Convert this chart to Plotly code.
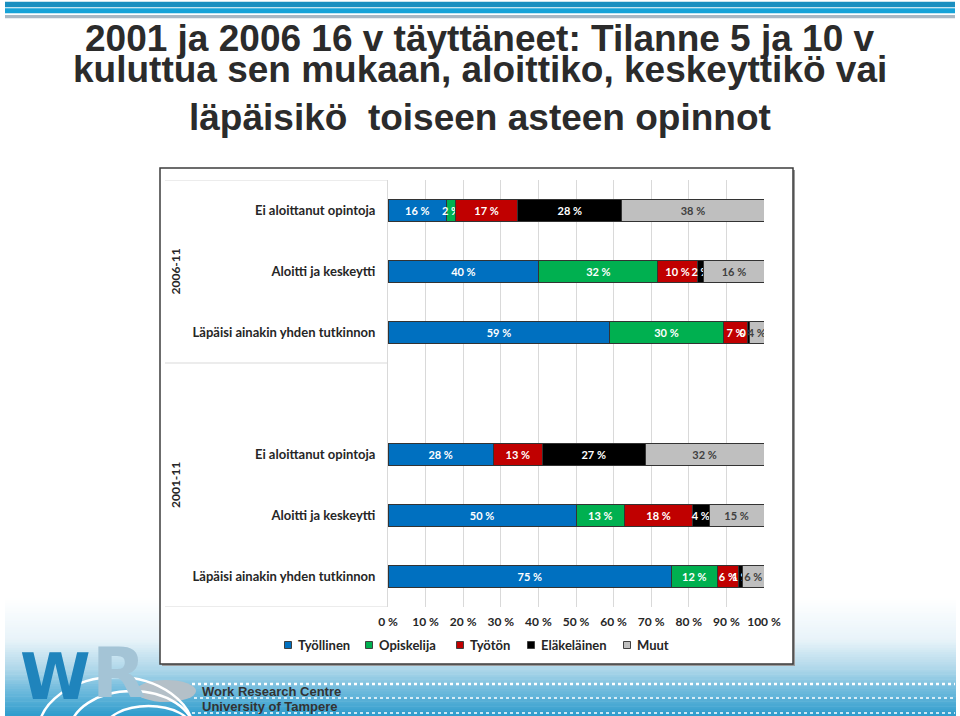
import plotly.graph_objects as go

# ---------------- data ----------------
groups = ["2006-11", "2001-11"]
row_labels = ["Ei aloittanut opintoja", "Aloitti ja keskeytti", "Läpäisi ainakin yhden tutkinnon"]
series_names = ["Työllinen", "Opiskelija", "Työtön", "Eläkeläinen", "Muut"]
series_colors = ["#0070C0", "#00B050", "#C00000", "#000000", "#BFBFBF"]
label_colors = ["#FFFFFF", "#FFFFFF", "#FFFFFF", "#FFFFFF", "#404040"]
# rows: 2006-11 (Ei, Aloitti, Läpäisi), 2001-11 (Ei, Aloitti, Läpäisi)
tyollinen = [15.6, 40.1, 59.0, 28.0, 50.0, 75.4]
opiskelija = [2.3, 31.7, 30.1, 0.0, 12.9, 12.1]
tyoton = [16.6, 10.4, 6.6, 13.0, 18.1, 5.8]
elakelainen = [27.7, 1.8, 0.4, 27.4, 4.4, 1.0]
muut = [37.8, 16.0, 3.9, 31.6, 14.6, 5.7]
series_values = [tyollinen, opiskelija, tyoton, elakelainen, muut]
x_ticks = list(range(0, 101, 10))
title_lines = [
    "2001 ja 2006 16 v täyttäneet: Tilanne 5 ja 10 v",
    "kuluttua sen mukaan, aloittiko, keskeyttikö vai",
    "läpäisikö  toiseen asteen opinnot",
]

# slot positions: group 2006 occupies slots 0-2, an empty slot 3, group 2001 slots 4-6
slots = [0, 1, 2, 4, 5, 6]
tick_text = row_labels + row_labels

# ---------------- geometry helpers ----------------
W, H = 960, 716
L, R, T, B = 388, 196, 180, 109
X0, X1 = L, W - R
Y0, Y1 = T, H - B


def px(x):
    return (x - X0) / (X1 - X0)


def py(y):
    return (Y1 - y) / (Y1 - Y0)


CHART_FONT = "Lato, Calibri, Carlito, sans-serif"
TXT = "#262626"

fig = go.Figure()
for name, vals, col, lcol in zip(series_names, series_values, series_colors, label_colors):
    fig.add_trace(go.Bar(
        name=name, orientation="h", x=vals, y=slots,
        marker=dict(color=col, line=dict(color="#333333", width=1)),
        text=[f"{round(v)} %" if v > 0 else "" for v in vals],
        textposition="inside", insidetextanchor="middle", textangle=0,
        textfont=dict(family=CHART_FONT, size=11, color=lcol, weight="bold"),
        width=0.36, showlegend=False, hoverinfo="skip",
    ))

shapes = []
# top decorative stripes
for (y0, y1, c) in [(1.7, 7.3, "#1A8FC0"), (8.3, 13.3, "#17A3D8"), (15, 18.3, "#A9B8C4")]:
    shapes.append(dict(type="rect", xref="paper", yref="paper", x0=px(5), x1=px(955),
                       y0=py(y1), y1=py(y0), fillcolor=c, line=dict(width=0), layer="below"))

# footer gradient band (stepped)
stops = [(598, (255, 255, 255)), (640, (232, 243, 249)), (670, (172, 214, 233)),
         (690, (112, 187, 221)), (716, (46, 156, 204))]
n = 48
for i in range(n):
    ya = 598 + (716 - 598) * i / n
    yb = 598 + (716 - 598) * (i + 1) / n
    ym = (ya + yb) / 2
    for (sa, ca), (sb, cb) in zip(stops[:-1], stops[1:]):
        if sa <= ym <= sb:
            t = (ym - sa) / (sb - sa)
            c = tuple(int(round(ca[k] + (cb[k] - ca[k]) * t)) for k in range(3))
            break
    shapes.append(dict(type="rect", xref="paper", yref="paper", x0=px(5), x1=px(956),
                       y0=py(yb + 0.5), y1=py(ya), fillcolor="rgb(%d,%d,%d)" % c,
                       line=dict(width=0), layer="below"))

# logo gray swoosh
shapes.append(dict(type="circle", xref="paper", yref="paper", x0=px(136), x1=px(196),
                   y0=py(702), y1=py(680), fillcolor="#B4C0C8", line=dict(width=0), layer="below"))

# chart box with shadow
shapes.append(dict(type="rect", xref="paper", yref="paper", x0=px(162), x1=px(795),
                   y0=py(666), y1=py(170), fillcolor="#9A9A9A", line=dict(width=0), layer="below"))
shapes.append(dict(type="rect", xref="paper", yref="paper", x0=px(160), x1=px(793),
                   y0=py(664), y1=py(168), fillcolor="#FFFFFF",
                   line=dict(color="#3C3C3C", width=1.5), layer="below"))

# category-area divider lines
for yv in [-0.5, 2.5, 6.5]:
    shapes.append(dict(type="line", xref="paper", yref="y", x0=px(165), x1=0, y0=yv, y1=yv,
                       line=dict(color="#D9D9D9", width=1), layer="below"))

# dotted footer lines
for (yy, wd, x0) in [(684, 2.5, 192), (698, 1.5, 194), (713, 1.5, 192)]:
    shapes.append(dict(type="line", xref="paper", yref="paper", x0=px(x0), x1=px(955),
                       y0=py(yy), y1=py(yy), line=dict(color="#FFFFFF", width=wd, dash="dot"),
                       layer="above"))

annotations = []
# title
for line, yc in zip(title_lines, [38, 70, 117]):
    annotations.append(dict(text=line, xref="paper", yref="paper", x=px(480), y=py(yc),
                            xanchor="center", yanchor="middle", showarrow=False,
                            font=dict(family="Liberation Sans, Arial, sans-serif", size=37,
                                      color="#2B2B2B", weight="bold")))
# group labels
for g, center in zip(groups, [1, 4.5]):
    annotations.append(dict(text=g, xref="paper", yref="y", x=px(175), y=center,
                            textangle=-90, showarrow=False, xanchor="center", yanchor="middle",
                            font=dict(family=CHART_FONT, size=12, color=TXT, weight="bold")))

# legend (custom, compact like the original)
leg_sq_x = [288, 369, 460, 531, 627]
leg_y = 645
for name, col, sx in zip(series_names, series_colors, leg_sq_x):
    shapes.append(dict(type="rect", xref="paper", yref="paper", x0=px(sx - 3.5), x1=px(sx + 3.5),
                       y0=py(leg_y + 3.5), y1=py(leg_y - 3.5), fillcolor=col,
                       line=dict(color="#404040", width=1), layer="above"))
    annotations.append(dict(text=name, xref="paper", yref="paper", x=px(sx + 8), y=py(leg_y),
                            xanchor="left", yanchor="middle", showarrow=False,
                            font=dict(family=CHART_FONT, size=13, color=TXT, weight="bold")))

# logo letters and footer text
annotations.append(dict(text="W", xref="paper", yref="paper", x=px(55), y=py(716),
                        xanchor="center", yanchor="bottom", showarrow=False,
                        font=dict(family="DejaVu Sans, sans-serif", size=64, color="#1F84BC",
                                  weight="bold")))
annotations.append(dict(text="R", xref="paper", yref="paper", x=px(119), y=py(716),
                        xanchor="center", yanchor="bottom", showarrow=False,
                        font=dict(family="DejaVu Sans, sans-serif", size=70, color="#A4C4D6",
                                  weight="bold")))
annotations.append(dict(text="Work Research Centre", xref="paper", yref="paper", x=px(200), y=py(691),
                        xanchor="left", yanchor="middle", showarrow=False,
                        font=dict(family="Liberation Sans, Arial, sans-serif", size=13,
                                  color="#333333", weight="bold")))
annotations.append(dict(text="University of Tampere", xref="paper", yref="paper", x=px(200), y=py(706),
                        xanchor="left", yanchor="middle", showarrow=False,
                        font=dict(family="Liberation Sans, Arial, sans-serif", size=13,
                                  color="#333333", weight="bold")))

# white arcs of the logo (drawn above the letters)
for (x0, x1, y0, y1) in [(38, 194, 677, 790), (70, 194, 691, 772), (105, 192, 706, 752)]:
    shapes.append(dict(type="circle", xref="paper", yref="paper", x0=px(x0), x1=px(x1),
                       y0=py(y1), y1=py(y0), line=dict(color="#FFFFFF", width=2.5),
                       fillcolor="rgba(0,0,0,0)", layer="above"))

fig.update_layout(
    width=W, height=H, barmode="stack",
    margin=dict(l=L, r=R, t=T, b=B, pad=0),
    paper_bgcolor="#FFFFFF", plot_bgcolor="rgba(0,0,0,0)",
    shapes=shapes, annotations=annotations, showlegend=False,
    uniformtext=dict(minsize=11, mode="show"),
    xaxis=dict(range=[0, 100], tickvals=x_ticks, ticktext=[f"{v} %" for v in x_ticks],
               showgrid=True, gridcolor="#D9D9D9", gridwidth=1, zeroline=False, showline=False,
               ticks="", ticklabelstandoff=6,
               tickfont=dict(family=CHART_FONT, size=12, color=TXT, weight="bold"), fixedrange=True),
    yaxis=dict(range=[6.5, -0.5], tickvals=slots, ticktext=tick_text, showgrid=False,
               zeroline=False, showline=True, linecolor="#D9D9D9", linewidth=1, ticks="",
               ticklabelstandoff=9,
               tickfont=dict(family=CHART_FONT, size=13, color=TXT, weight="bold"), fixedrange=True),
)

fig.write_html("out.html")
